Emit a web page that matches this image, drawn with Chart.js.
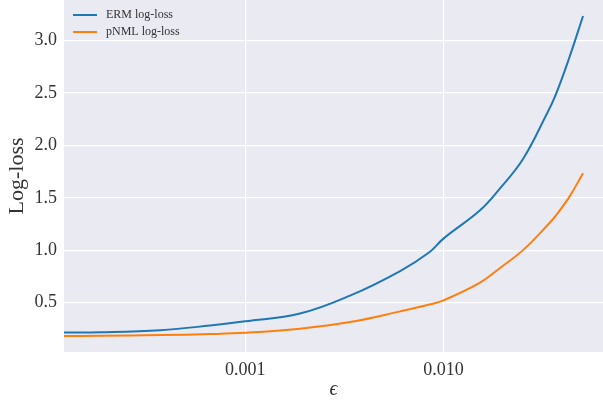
<!DOCTYPE html>
<html>
<head>
<meta charset="utf-8">
<script src="https://cdn.jsdelivr.net/npm/chart.js@4/dist/chart.umd.min.js"></script>
<style>
    html, body { margin: 0; padding: 0; background: #fff; }
    #wrap { width: 603px; height: 402px; }
</style>
</head>
<body>
<div id="wrap"><canvas id="lossChart" width="603" height="402"></canvas></div>
<script>
// Log-loss vs epsilon

const epsilons = [1.22e-4, 1.86e-4, 3.73e-4, 6.66e-4, 1e-3, 1.89e-3, 3.38e-3, 6.05e-3, 8.49e-3,
    1e-2, 1.53e-2, 1.93e-2, 2.52e-2, 3.32e-2, 3.66e-2, 4.30e-2, 5.06e-2];
const ermLoss = [0.213, 0.215, 0.235, 0.28, 0.32, 0.394, 0.565, 0.80, 0.98,
    1.11, 1.38, 1.59, 1.87, 2.30, 2.47, 2.83, 3.236];
const pnmlLoss = [0.18, 0.182, 0.189, 0.198, 0.21, 0.25, 0.313, 0.415, 0.48,
    0.52, 0.69, 0.83, 1.0, 1.23, 1.322, 1.504, 1.735];
const xTicks = [0.001, 0.01];
const yTicks = [0.5, 1.0, 1.5, 2.0, 2.5, 3.0];

const serif = "'Liberation Serif', 'DejaVu Serif', serif";

function toPoints(ys) {
    return epsilons.map((e, i) => ({ x: e, y: ys[i] }));
}

// seaborn-like grey plot background
const plotBackground = {
    id: 'plotBackground',
    beforeDraw(chart) {
        const { ctx, chartArea: a } = chart;
        ctx.save();
        ctx.fillStyle = '#eaeaf2';
        ctx.fillRect(a.left, a.top, a.right - a.left, a.bottom - a.top);
        ctx.restore();
    }
};

// legend in the upper left corner of the plot, matplotlib style
const innerLegend = {
    id: 'innerLegend',
    afterDraw(chart) {
        const { ctx, chartArea: a } = chart;
        ctx.save();
        ctx.font = '12px ' + serif;
        ctx.textBaseline = 'middle';
        chart.data.datasets.forEach((ds, i) => {
            const y = a.top + 15 + i * 17;
            ctx.strokeStyle = ds.borderColor;
            ctx.lineWidth = 2;
            ctx.beginPath();
            ctx.moveTo(a.left + 9, y);
            ctx.lineTo(a.left + 33, y);
            ctx.stroke();
            ctx.fillStyle = '#333';
            ctx.fillText(ds.label, a.left + 42, y);
        });
        ctx.restore();
    }
};

new Chart(document.getElementById('lossChart'), {
    type: 'line',
    data: {
        datasets: [{
            label: 'ERM log-loss',
            data: toPoints(ermLoss),
            borderColor: '#1f77b4',
            backgroundColor: '#1f77b4',
            borderWidth: 2,
            pointRadius: 0,
            tension: 0.4
        }, {
            label: 'pNML log-loss',
            data: toPoints(pnmlLoss),
            borderColor: '#ff7f0e',
            backgroundColor: '#ff7f0e',
            borderWidth: 2,
            pointRadius: 0,
            tension: 0.4
        }]
    },
    options: {
        responsive: false,
        animation: false,
        layout: { padding: 0 },
        plugins: {
            legend: { display: false },
            tooltip: { enabled: false }
        },
        scales: {
            x: {
                type: 'logarithmic',
                min: 1.22e-4,
                max: 6.38e-2,
                afterBuildTicks: scale => {
                    scale.ticks = xTicks.map(v => ({ value: v }));
                },
                afterFit: scale => {
                    scale.height = 50;
                    scale.paddingLeft = 0;
                    scale.paddingRight = 0;
                },
                ticks: {
                    padding: 7,
                    color: '#333',
                    font: { family: serif, size: 18 },
                    callback: v => Number(v).toFixed(3)
                },
                grid: { color: '#ffffff', lineWidth: 1.2, drawTicks: false },
                border: { display: false },
                title: {
                    display: true,
                    text: 'ϵ',
                    color: '#333',
                    padding: { top: 6, bottom: 0 },
                    font: { family: serif, size: 20, style: 'italic' }
                }
            },
            y: {
                min: 0.027,
                max: 3.389,
                afterBuildTicks: scale => {
                    scale.ticks = yTicks.map(v => ({ value: v }));
                },
                afterFit: scale => {
                    scale.width = 64;
                    scale.paddingTop = 0;
                    scale.paddingBottom = 0;
                },
                ticks: {
                    padding: 7,
                    color: '#333',
                    font: { family: serif, size: 18 },
                    callback: v => Number(v).toFixed(1)
                },
                grid: { color: '#ffffff', lineWidth: 1.2, drawTicks: false },
                border: { display: false },
                title: {
                    display: true,
                    text: 'Log-loss',
                    color: '#333',
                    padding: { top: 4, bottom: 0 },
                    font: { family: serif, size: 22 }
                }
            }
        }
    },
    plugins: [plotBackground, innerLegend]
});
</script>
</body>
</html>
